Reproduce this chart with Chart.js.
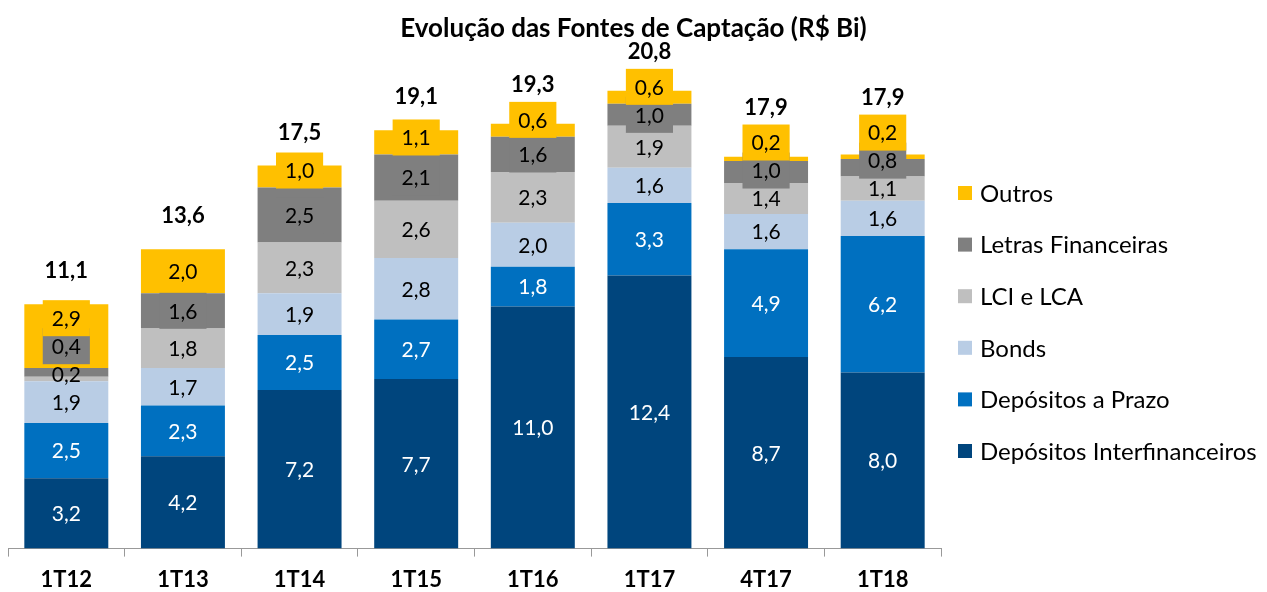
<!DOCTYPE html>
<html lang="pt-BR">
<head>
<meta charset="utf-8">
<title>Evolução das Fontes de Captação</title>
<script src="https://cdn.jsdelivr.net/npm/chart.js@4/dist/chart.umd.min.js"></script>
<style>
  html, body { margin: 0; padding: 0; background: #fff; }
  #wrap { width: 1267px; height: 592px; }
</style>
</head>
<body>
<div id="wrap"><canvas id="grafico" width="1267" height="592"></canvas></div>
<script>
// Dados (R$ bilhões)
const trimestres = ["1T12", "1T13", "1T14", "1T15", "1T16", "1T17", "4T17", "1T18"];
const interfinanceiros = [3.2, 4.2, 7.2, 7.7, 11.0, 12.4, 8.7, 8.0];
const prazo = [2.5, 2.3, 2.5, 2.7, 1.8, 3.3, 4.9, 6.2];
const bonds = [1.9, 1.7, 1.9, 2.8, 2.0, 1.6, 1.6, 1.6];
const lciLca = [0.2, 1.8, 2.3, 2.6, 2.3, 1.9, 1.4, 1.1];
const letras = [0.4, 1.6, 2.5, 2.1, 1.6, 1.0, 1.0, 0.8];
const outros = [2.9, 2.0, 1.0, 1.1, 0.6, 0.6, 0.2, 0.2];
const totais = [11.1, 13.6, 17.5, 19.1, 19.3, 20.8, 17.9, 17.9];

const titulo = "Evolução das Fontes de Captação (R$ Bi)";
const fonte = "Lato, 'Open Sans', sans-serif";

function fmt(v) {
  return v.toFixed(1).replace(".", ",");
}

// guarda o topo da caixa do último rótulo de cada pilha
const topoCaixas = [];

// rótulos dentro das barras (Letras e Outros ganham caixa colorida)
const rotulosSegmentos = {
  id: "rotulosSegmentos",
  afterDatasetsDraw(chart) {
    const ctx = chart.ctx;
    const n = chart.data.datasets.length;
    ctx.save();
    ctx.font = "21px " + fonte;
    ctx.textAlign = "center";
    ctx.textBaseline = "middle";
    trimestres.forEach((t, i) => {
      // posições de baixo para cima, empurrando para cima quando sobrepõe
      const pos = [];
      let anterior = null;
      for (let d = 0; d < n; d++) {
        const el = chart.getDatasetMeta(d).data[i];
        let c = (el.y + el.base) / 2;
        if (d === n - 1) c = Math.min(c, el.base - 17);
        if (anterior !== null) c = Math.min(c, anterior - 28);
        pos.push(c);
        anterior = c;
      }
      topoCaixas[i] = pos[n - 1] - 18;
      for (let d = 0; d < n; d++) {
        const ds = chart.data.datasets[d];
        const el = chart.getDatasetMeta(d).data[i];
        const txt = fmt(ds.data[i]);
        if (ds.caixa) {
          const w = ctx.measureText(txt).width + 18;
          const h = 36;
          ctx.fillStyle = ds.backgroundColor;
          ctx.fillRect(el.x - w / 2, pos[d] - h / 2, w, h);
        }
        ctx.fillStyle = ds.corTexto;
        ctx.fillText(txt, el.x, pos[d] + 1);
      }
    });
    ctx.restore();
  }
};

// totais acima das pilhas
const rotulosTotais = {
  id: "rotulosTotais",
  afterDatasetsDraw(chart) {
    const ctx = chart.ctx;
    const n = chart.data.datasets.length;
    const meta = chart.getDatasetMeta(n - 1);
    ctx.save();
    ctx.font = "bold 22px " + fonte;
    ctx.fillStyle = "#000";
    ctx.textAlign = "center";
    ctx.textBaseline = "middle";
    meta.data.forEach((el, i) => {
      const y = Math.min(el.y - 33, topoCaixas[i] - 17);
      ctx.fillText(fmt(totais[i]), el.x, y);
    });
    ctx.restore();
  }
};

// título centrado na imagem toda + legenda à direita (ordem invertida)
const tituloLegenda = {
  id: "tituloLegenda",
  afterDraw(chart) {
    const ctx = chart.ctx;
    ctx.save();
    ctx.font = "bold 26px " + fonte;
    ctx.fillStyle = "#000";
    ctx.textAlign = "center";
    ctx.textBaseline = "middle";
    ctx.fillText(titulo, chart.width / 2, 29);

    const ds = chart.data.datasets.slice().reverse();
    const x0 = chart.chartArea.right + 17;
    ctx.font = "24px " + fonte;
    ctx.textAlign = "left";
    ds.forEach((d, k) => {
      const y = 193 + k * 51.6;
      ctx.fillStyle = d.backgroundColor;
      ctx.fillRect(x0, y - 7, 14, 14);
      ctx.fillStyle = "#000";
      ctx.fillText(d.label, x0 + 22, y + 1);
    });
    ctx.restore();
  }
};

new Chart(document.getElementById("grafico"), {
  type: "bar",
  data: {
    labels: trimestres,
    datasets: [
      { label: "Depósitos Interfinanceiros", data: interfinanceiros, backgroundColor: "#00457D", corTexto: "#fff" },
      { label: "Depósitos a Prazo", data: prazo, backgroundColor: "#0070C0", corTexto: "#fff" },
      { label: "Bonds", data: bonds, backgroundColor: "#B9CDE5", corTexto: "#000" },
      { label: "LCI e LCA", data: lciLca, backgroundColor: "#BFBFBF", corTexto: "#000" },
      { label: "Letras Financeiras", data: letras, backgroundColor: "#7F7F7F", corTexto: "#000", caixa: true },
      { label: "Outros", data: outros, backgroundColor: "#FFC000", corTexto: "#000", caixa: true }
    ]
  },
  options: {
    responsive: false,
    animation: false,
    datasets: {
      bar: { categoryPercentage: 1.0, barPercentage: 0.72, borderWidth: 0 }
    },
    layout: { padding: { left: 8, right: 326, bottom: -11, top: 51 } },
    plugins: {
      title: { display: false },
      legend: { display: false },
      tooltip: { enabled: false }
    },
    scales: {
      x: {
        stacked: true,
        grid: { offset: true, drawOnChartArea: false, drawTicks: true, tickLength: 8, color: "#999" },
        border: { color: "#999" },
        ticks: { color: "#000", padding: 10, font: { size: 22, weight: "bold", family: fonte } }
      },
      y: {
        stacked: true,
        display: false,
        min: 0,
        max: 22.6
      }
    }
  },
  plugins: [rotulosSegmentos, rotulosTotais, tituloLegenda]
});
</script>
</body>
</html>
